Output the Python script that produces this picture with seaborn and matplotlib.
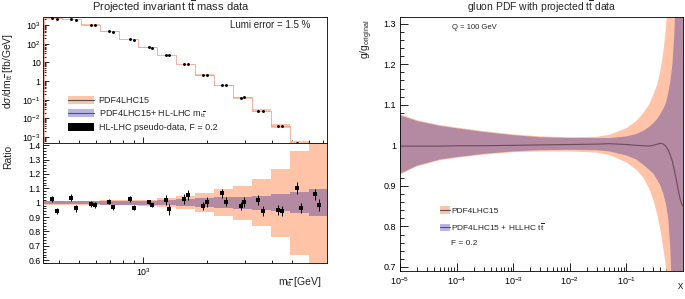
import numpy as np
import pandas as pd
import seaborn as sns
import matplotlib
matplotlib.use("Agg")
import matplotlib.pyplot as plt
from matplotlib.patches import Patch
from matplotlib.lines import Line2D
from matplotlib.ticker import (FixedLocator, FixedFormatter, NullFormatter,
                               LogLocator, MultipleLocator, FuncFormatter)

# ---------------- data: left panel (m_tt spectrum) ----------------
mtt_edges = [340, 417, 512, 628, 771, 946, 1161, 1425, 1748, 2145, 2633,
             3231, 3965, 4866, 5971, 7320]
xsec = [2290, 2020, 1060, 449, 171, 62.4, 24.7, 8.15, 2.10, 0.575, 0.131,
        0.0257, 0.0041, 4.5e-4, 1.0e-4]
# relative half widths of the bands in each bin
pdf_err = [0.014, 0.014, 0.015, 0.016, 0.018, 0.02, 0.03, 0.045, 0.066,
           0.092, 0.118, 0.165, 0.237, 0.36, 0.5]
hl_err = [0.011, 0.011, 0.012, 0.013, 0.014, 0.015, 0.018, 0.023, 0.03,
          0.037, 0.043, 0.05, 0.06, 0.072, 0.092]

# pseudo-data (two points per bin)
data_m = [372, 393, 457, 482, 568, 592, 690, 720, 866, 904, 1064, 1099,
          1279, 1321, 1554, 1623, 1910, 1994, 2347, 2450, 2884, 2978, 3466,
          3659, 4305, 4495, 5288, 5523, 6427, 6711]
data_ratio = [1.026, 0.945, 1.035, 0.961, 0.989, 0.984, 1.007, 0.968, 1.026,
              0.966, 1.003, 0.984, 1.019, 0.954, 1.026, 1.053, 0.977, 1.007,
              1.065, 1.007, 0.977, 1.003, 1.019, 0.942, 0.949, 0.945, 1.104,
              0.961, 1.058, 0.984]
data_err = [0.023, 0.02, 0.025, 0.025, 0.02, 0.02, 0.018, 0.018, 0.018,
            0.015, 0.015, 0.015, 0.035, 0.04, 0.035, 0.035, 0.03, 0.035,
            0.03, 0.03, 0.03, 0.035, 0.035, 0.035, 0.035, 0.035, 0.04,
            0.035, 0.04, 0.04]

# ---------------- data: right panel (gluon ratio) ----------------
gx = [1e-5, 2e-5, 5e-5, 1e-4, 3e-4, 1e-3, 3e-3, 1e-2, 3e-2, 0.05, 0.1, 0.15,
      0.2, 0.25, 0.3, 0.35, 0.4, 0.45, 0.5, 0.55, 0.6, 0.65, 0.7, 0.75, 0.8,
      0.85, 0.9, 0.95, 1.0]
pdf_up = [1.077, 1.062, 1.05, 1.044, 1.035, 1.027, 1.022, 1.02, 1.021, 1.026,
          1.042, 1.06, 1.08, 1.10, 1.125, 1.15, 1.185, 1.23, 1.29, 1.37, 1.5,
          1.6, 1.6, 1.6, 1.6, 1.6, 1.6, 1.6, 1.6]
pdf_lo = [0.928, 0.948, 0.963, 0.969, 0.977, 0.983, 0.985, 0.985, 0.982,
          0.976, 0.958, 0.94, 0.92, 0.895, 0.865, 0.83, 0.79, 0.745, 0.70,
          0.64, 0.55, 0.4, 0.4, 0.4, 0.4, 0.4, 0.4, 0.4, 0.4]
hl_up = [1.074, 1.06, 1.048, 1.042, 1.033, 1.025, 1.02, 1.018, 1.018, 1.018,
         1.022, 1.028, 1.036, 1.045, 1.055, 1.065, 1.078, 1.09, 1.105, 1.13,
         1.16, 1.2, 1.27, 1.4, 1.6, 1.6, 1.6, 1.6, 1.6]
hl_lo = [0.93, 0.95, 0.965, 0.971, 0.979, 0.985, 0.988, 0.989, 0.988, 0.985,
         0.975, 0.965, 0.952, 0.94, 0.93, 0.915, 0.9, 0.88, 0.855, 0.82,
         0.74, 0.6, 0.4, 0.4, 0.4, 0.4, 0.4, 0.4, 0.4]
hl_central = [0.998, 0.998, 0.998, 0.999, 0.999, 1.0, 1.001, 1.002, 1.003,
              1.004, 1.002, 1.0, 0.999, 0.998, 1.0, 1.003, 1.005, 1.003, 0.997,
              0.988, 0.975, 0.96, 0.94, 0.92, 0.9, 0.88, 0.865, 0.855, 0.85]

ORANGE = "#ffc3a8"
MAUVE = "#b38aa2"
LAVENDER = "#b8b4e8"
LINE = "#6b4a5c"

sns.set_theme(style="ticks")
plt.rcParams["font.family"] = ["Liberation Sans", "DejaVu Sans"]
plt.rcParams["mathtext.fontset"] = "custom"
plt.rcParams["mathtext.rm"] = "Liberation Sans"
plt.rcParams["mathtext.it"] = "Liberation Sans:italic"
plt.rcParams["mathtext.bf"] = "Liberation Sans:bold"
plt.rcParams["axes.linewidth"] = 0.6
plt.rcParams["axes.edgecolor"] = "black"
for a in ("xtick", "ytick"):
    plt.rcParams[f"{a}.direction"] = "in"
    plt.rcParams[f"{a}.major.width"] = 0.6
    plt.rcParams[f"{a}.minor.width"] = 0.6
    plt.rcParams[f"{a}.color"] = "black"

fig = plt.figure(figsize=(6.85, 2.99), dpi=100)
W, H = 685.0, 299.0

def ax_at(x0, y0, x1, y1):
    # pixel box (top-left origin) -> figure axes
    return fig.add_axes([x0 / W, 1 - y1 / H, (x1 - x0) / W, (y1 - y0) / H])

ax_top = ax_at(43.5, 17, 327.4, 142.7)
ax_rat = ax_at(43.5, 142.7, 327.4, 263.3)
ax_g = ax_at(400, 17, 683, 271)

edges = np.array(mtt_edges, dtype=float)
xs = np.array(xsec)
perr = np.array(pdf_err)
herr = np.array(hl_err)
dm = np.array(data_m, dtype=float)
dr = np.array(data_ratio)
bin_idx = np.digitize(dm, edges) - 1
dxs = xs[bin_idx] * dr

TT = r"$\mathrm{t}\overline{\mathrm{t}}$"
TT_SUB = r"$_{\mathrm{t}\overline{\mathrm{t}}}$"

# ---------- top panel ----------
ax_top.stairs(xs * (1 + perr), edges, baseline=xs * (1 - perr), fill=True,
              color=ORANGE, lw=0)
ax_top.stairs(xs, edges, color="#f2a294", lw=0.6)
df_top = pd.DataFrame({"m": dm, "xs": dxs})
sns.scatterplot(data=df_top, x="m", y="xs", ax=ax_top, color="black",
                marker="o", s=4.5, linewidth=0, legend=False, zorder=5)
ax_top.set_xscale("log")
ax_top.set_yscale("log")
ax_top.set_xlim(340, 7320)
ax_top.set_ylim(4.96e-4, 2680)
ax_top.set_xlabel("")
ax_top.set_ylabel("")
ytk = [1e-3, 1e-2, 1e-1, 1, 10, 1e2, 1e3]
ax_top.yaxis.set_major_locator(FixedLocator(ytk))
ax_top.yaxis.set_major_formatter(FixedFormatter(
    [r"$10^{-3}$", r"$10^{-2}$", r"$10^{-1}$", "1", "10", r"$10^{2}$", r"$10^{3}$"]))
ax_top.yaxis.set_minor_locator(LogLocator(base=10, subs=np.arange(2, 10), numticks=20))
ax_top.yaxis.set_minor_formatter(NullFormatter())

xmaj = [1000]
xmin = [400, 500, 600, 700, 800, 900, 2000, 3000, 4000, 5000, 6000, 7000]
for a in (ax_top, ax_rat):
    a.xaxis.set_major_locator(FixedLocator(xmaj))
    a.xaxis.set_minor_locator(FixedLocator(xmin))
    a.xaxis.set_minor_formatter(NullFormatter())
    a.tick_params(axis="both", which="major", length=4, labelsize=6.3, pad=2)
    a.tick_params(axis="both", which="minor", length=2)
ax_top.xaxis.set_major_formatter(NullFormatter())

ax_top.text(0.939, 0.936, "Lumi error = 1.5 %", transform=ax_top.transAxes,
            ha="right", va="center", fontsize=7)

h1 = (Patch(facecolor=ORANGE, edgecolor="none"), Line2D([], [], color="#555555", lw=0.8))
h2 = (Patch(facecolor=LAVENDER, edgecolor="none"), Line2D([], [], color="#555555", lw=0.8))
h3 = Patch(facecolor="black", edgecolor="none")
ax_top.legend([h1, h2, h3],
              ["PDF4LHC15", "PDF4LHC15+ HL-LHC m" + TT_SUB,
               "HL-LHC pseudo-data, F = 0.2"],
              loc="upper left", bbox_to_anchor=(0.086, 0.37), frameon=False,
              fontsize=6.5, handlelength=2.9, handleheight=0.9,
              handletextpad=0.5, labelspacing=0.35, borderaxespad=0,
              borderpad=0)

# ---------- ratio panel ----------
ax_rat.stairs(1 + perr, edges, baseline=1 - perr, fill=True, color=ORANGE, lw=0)
ax_rat.stairs(1 + herr, edges, baseline=1 - herr, fill=True, color=MAUVE, lw=0)
ax_rat.errorbar(dm, dr, yerr=data_err, fmt="s", ms=2.6, mew=0, color="black",
                elinewidth=0.7, capsize=1.2, capthick=0.6, zorder=5)
ax_rat.set_xscale("log")
ax_rat.set_xlim(340, 7320)
ax_rat.set_ylim(0.579, 1.417)
ax_rat.xaxis.set_major_locator(FixedLocator(xmaj))
ax_rat.xaxis.set_minor_locator(FixedLocator(xmin))
ax_rat.xaxis.set_major_formatter(FixedFormatter([r"$10^{3}$"]))
ax_rat.xaxis.set_minor_formatter(NullFormatter())
ax_rat.yaxis.set_major_locator(MultipleLocator(0.1))
ax_rat.yaxis.set_minor_locator(MultipleLocator(0.02))
ax_rat.yaxis.set_major_formatter(FuncFormatter(lambda v, p: f"{v:g}"))

# ---------- right panel ----------
ax_g.fill_between(gx, pdf_lo, pdf_up, color=ORANGE, lw=0)
ax_g.fill_between(gx, hl_lo, hl_up, color=MAUVE, lw=0)
df_g = pd.DataFrame({"x": gx, "r": hl_central})
sns.lineplot(data=df_g, x="x", y="r", ax=ax_g, color=LINE, lw=0.8)
ax_g.set_xscale("log")
ax_g.set_xlim(1e-5, 1.0)
ax_g.set_ylim(0.690, 1.3165)
ax_g.set_xlabel("")
ax_g.set_ylabel("")
ax_g.xaxis.set_major_locator(FixedLocator([1e-5, 1e-4, 1e-3, 1e-2, 1e-1]))
ax_g.xaxis.set_major_formatter(FixedFormatter(
    [r"$10^{-5}$", r"$10^{-4}$", r"$10^{-3}$", r"$10^{-2}$", r"$10^{-1}$"]))
ax_g.xaxis.set_minor_locator(LogLocator(base=10, subs=np.arange(2, 10), numticks=20))
ax_g.xaxis.set_minor_formatter(NullFormatter())
ax_g.yaxis.set_major_locator(MultipleLocator(0.1))
ax_g.yaxis.set_minor_locator(MultipleLocator(0.02))
ax_g.yaxis.set_major_formatter(FuncFormatter(lambda v, p: f"{v:g}"))
ax_g.tick_params(axis="both", which="major", length=6, labelsize=6.5, pad=3)
ax_g.tick_params(axis="both", which="minor", length=3)

ax_g.text(0.184, 0.972, "Q = 100 GeV", transform=ax_g.transAxes,
          ha="left", va="top", fontsize=5.5)
g1 = (Patch(facecolor=ORANGE, edgecolor="none"), Line2D([], [], color="#555555", lw=0.8))
g2 = (Patch(facecolor=LAVENDER, edgecolor="none"), Line2D([], [], color="#555555", lw=0.8))
g3 = Patch(facecolor="none", edgecolor="none")
ax_g.legend([g1, g2, g3],
            ["PDF4LHC15", "PDF4LHC15 + HLLHC " + TT, "F = 0.2"],
            loc="upper left", bbox_to_anchor=(0.141, 0.255), frameon=False,
            fontsize=6, handlelength=1.2, handleheight=1.0,
            handletextpad=0.15, labelspacing=0.7, borderaxespad=0,
            borderpad=0)

# ---------- titles and axis labels ----------
fig.text(171 / W, 1 - 7 / H, "Projected invariant " + TT + " mass data",
         ha="center", va="center", fontsize=8)
fig.text(542 / W, 1 - 7 / H, "gluon PDF with projected " + TT + " data",
         ha="center", va="center", fontsize=7.5)
fig.text(8.5 / W, 1 - 33 / H, r"d$\sigma$/dm" + TT_SUB + " [fb/GeV]",
         rotation=90, ha="center", va="top", fontsize=7.5)
fig.text(8.5 / W, 1 - 145 / H, "Ratio", rotation=90, ha="center", va="top",
         fontsize=7.5)
fig.text(322 / W, 1 - 282 / H, "m" + TT_SUB + " [GeV]", ha="right",
         va="center", fontsize=7.5)
fig.text(367 / W, 1 - 19 / H, r"g/g$_{\rm original}$", rotation=90,
         ha="center", va="top", fontsize=7.5)
fig.text(680 / W, 1 - 286 / H, "x", ha="center", va="center", fontsize=7.5)

fig.savefig("out.png", dpi=100)
